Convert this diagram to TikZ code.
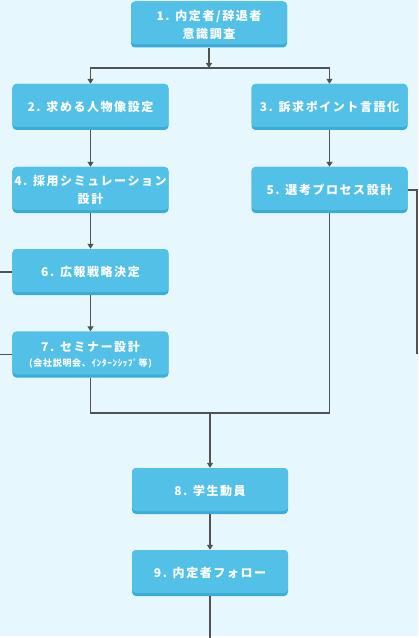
\documentclass[tikz,border=0pt]{standalone}
\usepackage{fontspec}
\newfontfamily\jp[LetterSpace=13]{Noto Sans CJK JP}
\newfontfamily\jpsmall[LetterSpace=8]{Noto Sans CJK JP}
\usetikzlibrary{arrows.meta}
\definecolor{bgc}{HTML}{E7F7FE}
\definecolor{boxc}{HTML}{53C0E7}
\definecolor{boxd}{HTML}{3BABD8}
\definecolor{linec}{HTML}{525252}
\tikzset{
  box/.style={rectangle, rounded corners=4bp, fill=boxd, minimum width=156bp, minimum height=46bp,
    inner sep=0pt, align=center, text=white, font=\jp\bfseries\fontsize{12bp}{18bp}\selectfont,
    path picture={\fill[boxc, rounded corners=4bp] (path picture bounding box.north west) rectangle ([yshift=3bp]path picture bounding box.south east);}},
  conn/.style={draw=linec, line width=1.2bp},
  arr/.style={conn, -{Triangle[width=6bp,length=5bp]}}
}
\begin{document}
\begin{tikzpicture}[x=1bp,y=-1bp]
\useasboundingbox (0,0) rectangle (418,638);
\fill[bgc] (0,0) rectangle (418,636);
\node[box] (b1) at (209,24.5) {1. 内定者/辞退者\\意識調査};
\node[box] (b2) at (90.5,107) {2. 求める人物像設定};
\node[box] (b3) at (329.5,107) {3. 訴求ポイント言語化};
\node[box] (b4) at (90.5,190) {4. 採用シミュレーション\\設計};
\node[box] (b5) at (329.5,190) {5. 選考プロセス設計};
\node[box] (b6) at (90.5,272) {6. 広報戦略決定};
\node[box] (b7) at (90.5,354.5) {7. セミナー設計\\[-3bp]{\jpsmall\bfseries\fontsize{9bp}{12bp}\selectfont (会社説明会、ｲﾝﾀｰﾝｼｯﾌﾟ等)}};
\node[box] (b8) at (210,491) {8. 学生動員};
\node[box] (b9) at (210,573) {9. 内定者フォロー};
\coordinate (j1) at (209,68);
\coordinate (j2) at (210,413);
\coordinate (l6) at (0,272);
\coordinate (l7) at (0,354.5);
\coordinate (r5) at (417,354);
\coordinate (e9) at (210,638);
\draw[arr] (b1.south) -- (j1);
\draw[arr] (j1) -| (b2.north);
\draw[arr] (j1) -| (b3.north);
\draw[arr] (b2) -- (b4);
\draw[arr] (b3) -- (b5);
\draw[arr] (b4) -- (b6);
\draw[arr] (b6) -- (b7);
\draw[conn] (b7.south) |- (j2);
\draw[conn] (b5.south) |- (j2);
\draw[arr] (j2) -- (b8.north);
\draw[arr] (b8) -- (b9);
\draw[conn] (b9.south) -- (e9);
\draw[conn] (l6) -- (b6.west);
\draw[conn] (l7) -- (b7.west);
\draw[conn] (b5.east) -| (r5);
\end{tikzpicture}
\end{document}
